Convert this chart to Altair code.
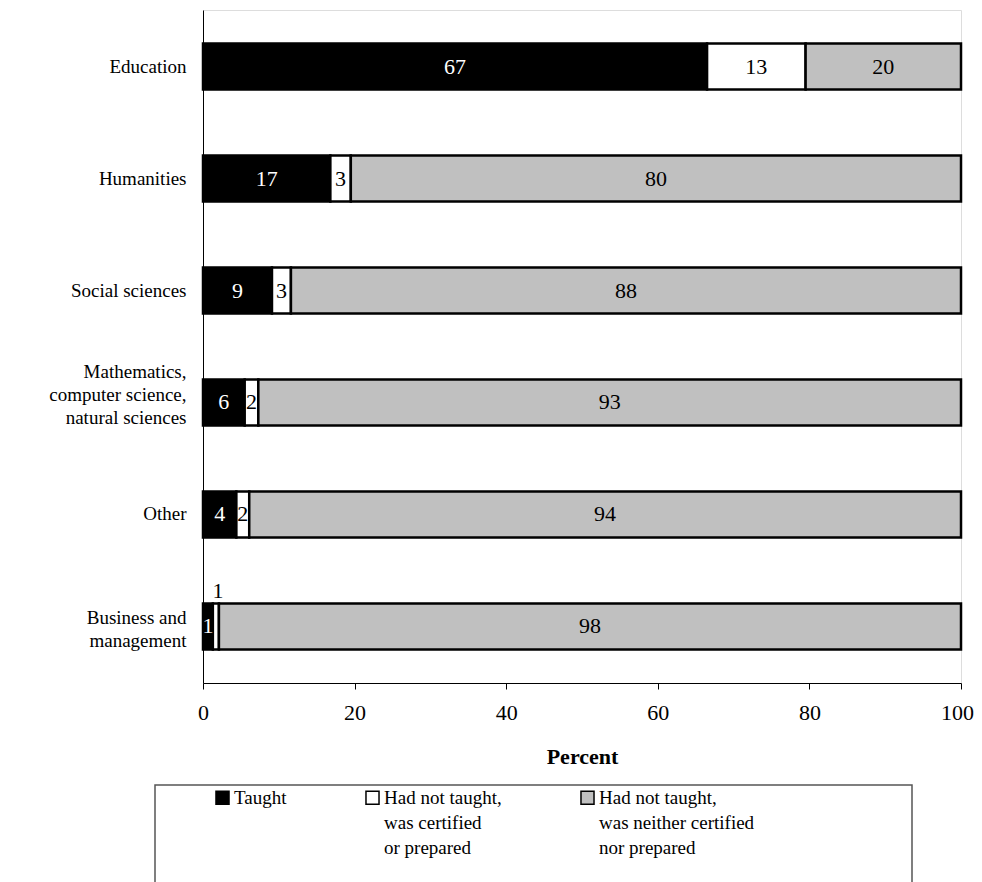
import altair as alt
import pandas as pd

categories = ["Education", "Humanities", "Social sciences",
              "Mathematics, computer science, natural sciences",
              "Other", "Business and management"]
series = ["Taught",
          "Had not taught, was certified or prepared",
          "Had not taught, was neither certified nor prepared"]
taught = [66.5, 16.8, 9.1, 5.5, 4.4, 1.3]
certified = [13.0, 2.7, 2.5, 1.8, 1.7, 0.8]
neither = [20.5, 80.5, 88.4, 92.7, 93.9, 97.9]
labels_taught = ["67", "17", "9", "6", "4", "1"]
labels_cert = ["13", "3", "3", "2", "2", "1"]
labels_neither = ["20", "80", "88", "93", "94", "98"]
colors = ["#000000", "#ffffff", "#c0c0c0"]
text_colors = ["#ffffff", "#000000", "#000000"]

rows = []
for i, c in enumerate(categories):
    for k, (vals, labs) in enumerate([(taught, labels_taught), (certified, labels_cert), (neither, labels_neither)]):
        rows.append({"category": c, "series": series[k], "order": k,
                     "value": vals[i], "label": labs[i]})
df = pd.DataFrame(rows)

FONT = "Times New Roman, Liberation Serif, serif"
FS_CAT = 19
FS_NUM = 22

MATH = "Mathematics, computer science, natural sciences"
BUS = "Business and management"
ylabel_expr = ("datum.label == '" + MATH + "' ? "
               "['Mathematics,', 'computer science,', 'natural sciences'] : "
               "datum.label == '" + BUS + "' ? ['Business and', 'management'] : datum.label")
leg_expr = ("datum.label == 'Had not taught, was certified or prepared' ? "
            "['Had not taught,', 'was certified', 'or prepared'] : "
            "datum.label == 'Had not taught, was neither certified nor prepared' ? "
            "['Had not taught,', 'was neither certified', 'nor prepared'] : ['Taught', ' ', ' ']")

base = alt.Chart(df).transform_stack(
    stack="value", groupby=["category"], as_=["x0", "x1"],
    sort=[alt.SortField("order", order="ascending")]
).transform_calculate(mid="(datum.x0 + datum.x1) / 2")

yenc = alt.Y("category:N", sort=categories,
             scale=alt.Scale(paddingInner=0.59, paddingOuter=0.3),
             axis=alt.Axis(title=None, ticks=False, labelPadding=17,
                           labelFont=FONT, labelFontSize=FS_CAT, labelColor="black",
                           labelLineHeight=23, labelExpr=ylabel_expr,
                           labelOffset={"condition": [
                               {"test": "datum.label == '" + MATH + "'", "value": -30},
                               {"test": "datum.label == '" + BUS + "'", "value": -8}],
                               "value": 0},
                           domainColor="black", domainWidth=1))

bars = base.mark_bar(stroke="black", strokeWidth=2.5).encode(
    x=alt.X("x0:Q", scale=alt.Scale(domain=[0, 100], nice=False),
            axis=alt.Axis(title="Percent", values=[0, 20, 40, 60, 80, 100],
                          grid=False, tickSize=6, tickColor="black", labelFlush=False,
                          labelOffset={"condition": {"test": "datum.value == 100", "value": -4},
                                       "value": 0},
                          domainColor="black", labelPadding=13,
                          labelFont=FONT, labelFontSize=FS_NUM, labelColor="black",
                          titleFont=FONT, titleFontSize=FS_NUM, titleFontWeight="bold",
                          titleColor="black", titlePadding=23)),
    x2="x1:Q",
    y=yenc,
    fill=alt.Fill("series:N", sort=series,
                  scale=alt.Scale(domain=series, range=colors),
                  legend=alt.Legend(title=None, orient="none", legendX=10, legendY=778,
                                    columns=3, direction="horizontal",
                                    columnPadding=75, gridAlign="each",
                                    symbolType="square", symbolSize=170,
                                    symbolStrokeColor="black", symbolStrokeWidth=1.5,
                                    labelFont=FONT, labelFontSize=FS_CAT, labelColor="black",
                                    labelLimit=400,
                                    labelBaseline="middle", labelOffset=2,
                                    labelExpr=leg_expr)),
    order=alt.Order("order:Q"),
)

is_special = "datum.category == 'Business and management' && datum.order == 1"

texts = base.transform_filter("!(" + is_special + ")").mark_text(
    font=FONT, fontSize=FS_NUM, baseline="middle", align="center").encode(
    x=alt.X("mid:Q"),
    y=alt.Y("category:N", sort=categories),
    text="label:N",
    color=alt.Color("series:N", scale=alt.Scale(domain=series, range=text_colors), legend=None),
)

special = base.transform_filter(is_special).mark_text(
    font=FONT, fontSize=FS_NUM, baseline="middle", align="center", dy=-35, dx=2, color="black").encode(
    x=alt.X("mid:Q"),
    y=alt.Y("category:N", sort=categories),
    text="label:N",
)

frame = alt.Chart(pd.DataFrame({"a": [0]})).mark_rect(
    fill=None, stroke="#555555", strokeWidth=1.5).encode(
    x=alt.value(-48), x2=alt.value(709), y=alt.value(775), y2=alt.value(900))

chart = alt.layer(bars, texts, special, frame).resolve_scale(color="independent").properties(
    width=758, height=673,
    autosize=alt.AutoSizeParams(type="none"),
    padding={"left": 195, "top": 2, "right": 13, "bottom": 200},
).configure_view(stroke=None).configure(
    background="white",
    style={"guide-label": {"lineHeight": 25}},
)

chart.save("out.html", embed_options={"renderer": "svg", "actions": False})
